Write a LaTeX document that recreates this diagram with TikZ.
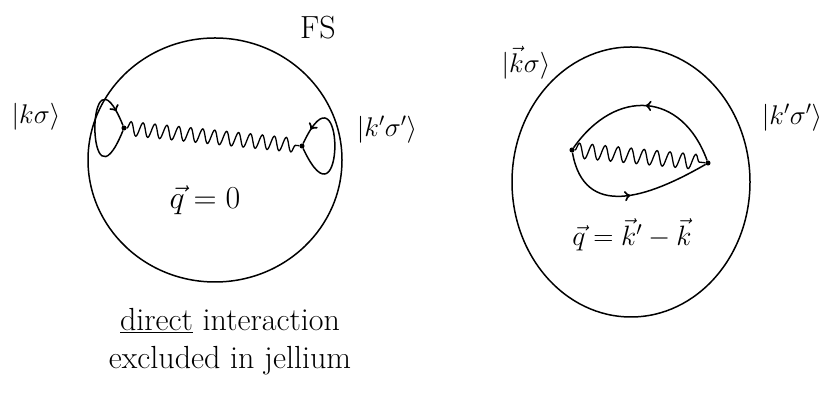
\RequirePackage{fix-cm}
\documentclass[tikz,border=0pt]{standalone}
\usepackage{fontspec}
\usetikzlibrary{shapes.geometric,decorations.pathmorphing,decorations.markings,positioning}

\tikzset{
    fs/.style={ellipse,draw,line width=1.5pt,inner sep=0},
    vertex/.style={circle,fill,inner sep=1.8pt},
    photon/.style={decorate,decoration={snake,amplitude=7pt,segment length=12pt},line width=1.3pt},
    fermion/.style={line width=1.5pt,postaction={decorate},
        decoration={markings,mark=at position #1 with {\arrow[line width=1.3pt,scale=1.6]{>}}}},
    fermion/.default=0.5,
    handtxt/.style={font=\fontsize{32}{36}\selectfont},
    kettxt/.style={font=\fontsize{27}{32}\selectfont}
    }

\begin{document}
\begin{tikzpicture}[x=1pt,y=1pt]
                \useasboundingbox (0,0) rectangle (830,403);
                % The direct diagram
                \node(fsL)[fs, minimum width=254pt, minimum height=244pt] at (215,243) {};
                \node(fsLlab)[handtxt] at (318,375) {FS};
                \node(ketL)[kettxt] at (36,286) {$|k\sigma\rangle$};
                \node(ketLp)[kettxt] at (387,273) {$|k'\sigma'\rangle$};
                \node(v1)[vertex] at (124,275) {};
                \node(v2)[vertex] at (302,257) {};
                \draw[photon] (v1) -- (v2);
                \draw[fermion=0.88] (v1) to[out=-112,in=112,distance=100pt] (v1);
                \draw[fermion=0.88] (v2) to[out=-65,in=65,distance=100pt] (v2);
                \node(qL)[handtxt] at (205,203) {$\vec q=0$};
                \node(dir)[handtxt] at (230,82) {\underline{direct} interaction};
                \node(excl)[handtxt] at (230,42) {excluded in jellium};
                % The exchange diagram
                \node(fsR)[fs, minimum width=238pt, minimum height=270pt] at (631,221) {};
                \node(ketR)[kettxt] at (526,340) {$|\vec k\sigma\rangle$};
                \node(ketRp)[kettxt] at (792,285) {$|k'\sigma'\rangle$};
                \node(v3)[vertex] at (572,253) {};
                \node(v4)[vertex] at (708,240) {};
                \draw[photon, decoration={amplitude=7.5pt,segment length=13pt}] (v3) -- (v4);
                \draw[fermion] (v4) to[out=110,in=55,looseness=1.4] (v3);
                \draw[fermion] (v3) to[out=-80,in=-150,looseness=1.3] (v4);
                \node(qR)[handtxt, font=\fontsize{28}{32}\selectfont] at (632,168) {$\vec q=\vec k'-\vec k$};
            \end{tikzpicture}
\end{document}
